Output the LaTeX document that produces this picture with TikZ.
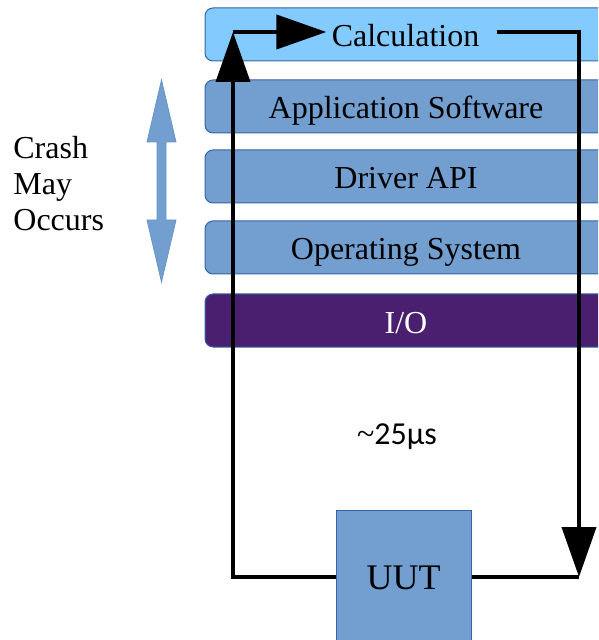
\documentclass[tikz,border=0pt]{standalone}
\usepackage{fontspec}
\setmainfont{Liberation Serif}
\newfontfamily\calibrifont{Carlito}
\usepackage{xcolor}
\usetikzlibrary{positioning,calc,arrows.meta}
\definecolor{boxblue}{HTML}{729FCF}
\definecolor{boxedge}{HTML}{3465A4}
\definecolor{calcblue}{HTML}{83CAFF}
\definecolor{iopurple}{HTML}{4B1F6F}
\tikzset{
    layer/.style={draw=boxedge, line width=0.5pt, fill=boxblue, rounded corners=4pt,
        minimum width=201pt, minimum height=26.5pt, inner sep=0pt,
        text height=12.5pt, text depth=0pt,
        font=\fontsize{16}{18}\selectfont},
    loopline/.style={line width=2pt, black},
    bigtip/.style={-{Triangle[length=25pt,width=17pt]}}
}

\begin{document}
\begin{tikzpicture}[x=0.5pt, y=-0.5pt]
    \useasboundingbox (0,0) rectangle (598,640);
    \clip (0,0) rectangle (598,640);

    % Layers
    \node[layer, fill=calcblue] (calc) at (406,34.5) {};
    \node[layer] (app) at (406,106.5) {Application Software};
    \node[layer] (drv) at (406,176.5) {Driver API};
    \node[layer] (os) at (406,247.5) {Operating System};
    \node[layer, fill=iopurple, text=white] (io) at (406,320.5) {I/O};

    % Crash region
    \filldraw[fill=boxblue, draw=boxblue!85!boxedge, line width=0.4pt]
        (161.5,80) -- (147,142) -- (157,142) -- (157,220) -- (147,220) -- (161.5,282)
        -- (176,220) -- (166,220) -- (166,142) -- (176,142) -- cycle;
    \node[anchor=north west, align=left, inner sep=0pt, font=\fontsize{16}{18}\selectfont]
        (crash) at (13,136) {Crash\\May\\Occurs};

    % Unit under test
    \node[draw=boxedge, line width=0.5pt, fill=boxblue, minimum width=67.5pt, minimum height=68pt,
        font=\fontsize{18}{20}\selectfont] (uut) at (403.5,578) {UUT};
    \node[font=\calibrifont\fontsize{16}{18}\selectfont] (time) at (397,437)
        {{\rmfamily\textasciitilde}25µs};

    % Loop
    \node[font=\fontsize{16}{18}\selectfont, inner xsep=2.5pt] (calctext) at (405.5,36) {Calculation};
    \coordinate (tl) at (233,32);
    \coordinate (tr) at (579,32);
    \coordinate (br) at (579,577);
    \coordinate (bl) at (233,577);
    \draw[loopline, bigtip] (uut.west |- bl) -- (bl) -- (tl);
    \draw[loopline, bigtip] (tl) -- (calctext.west |- tl);
    \draw[loopline, bigtip] ([xshift=6pt]calctext.east |- tr) -- (tr) -- (br);
    \draw[loopline] (br) -- (uut.east |- br);
\end{tikzpicture}
\end{document}
